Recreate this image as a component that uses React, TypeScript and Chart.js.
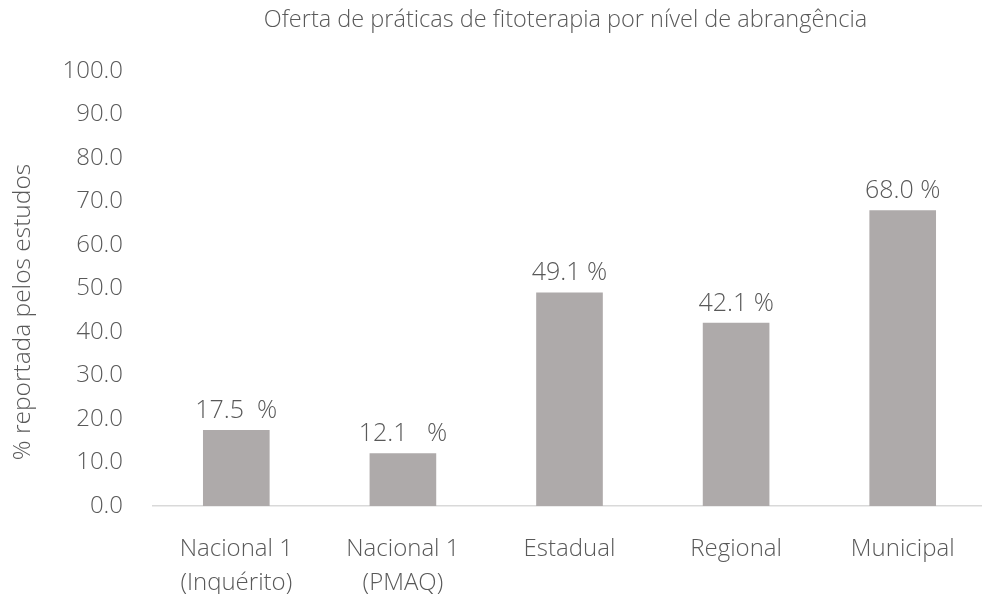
import React, { useEffect, useRef } from "react";
import { Chart, registerables } from "chart.js";

Chart.register(...registerables);

const categories: string[][] = [
  ["Nacional 1", "(Inquérito)"],
  ["Nacional 1", "(PMAQ)"],
  ["Estadual"],
  ["Regional"],
  ["Municipal"],
];
const values: number[] = [17.5, 12.1, 49.1, 42.1, 68.0];
const valueLabels: string[] = ["17.5  %", "12.1   %", "49.1 %", "42.1 %", "68.0 %"];
const chartTitle = "Oferta de práticas de fitoterapia por nível de abrangência";
const yAxisTitle = "% reportada pelos estudos";

const FONT = "'Open Sans', 'Noto Sans', sans-serif";
const TEXT = "#595959";

const overlayPlugin = {
  id: "overlay",
  afterDatasetsDraw(chart: any) {
    const ctx = chart.ctx;
    const area = chart.chartArea;
    ctx.save();
    ctx.fillStyle = TEXT;
    // title
    ctx.font = `300 23.5px ${FONT}`;
    ctx.textAlign = "center";
    ctx.textBaseline = "middle";
    ctx.fillText(chartTitle, (area.left + area.right) / 2 - 4, 20);
    // y axis title
    ctx.save();
    ctx.translate(23, 312);
    ctx.rotate(-Math.PI / 2);
    ctx.font = `300 24.5px ${FONT}`;
    ctx.fillText(yAxisTitle, 0, 0);
    ctx.restore();
    // value labels
    const meta = chart.getDatasetMeta(0);
    ctx.font = `300 25px ${FONT}`;
    ctx.textBaseline = "alphabetic";
    meta.data.forEach((bar: any, i: number) => {
      ctx.fillText(valueLabels[i], bar.x, bar.y - 12);
    });
    ctx.restore();
  },
};

export default function App() {
  const ref = useRef<HTMLCanvasElement | null>(null);
  useEffect(() => {
    if (!ref.current) return;
    const chart = new Chart(ref.current, {
      type: "bar",
      data: {
        labels: categories,
        datasets: [
          {
            data: values,
            backgroundColor: "#AEAAAA",
            borderWidth: 0,
            barPercentage: 0.8,
            categoryPercentage: 0.5,
          },
        ],
      },
      options: {
        animation: false,
        responsive: true,
        maintainAspectRatio: false,
        layout: { padding: { top: 71, right: 0, left: 0, bottom: 0 } },
        plugins: {
          legend: { display: false },
          title: { display: false },
          tooltip: { enabled: false },
        },
        scales: {
          x: {
            grid: { display: false, drawTicks: false },
            border: { display: true, color: "#D9D9D9", width: 1.5 },
            ticks: {
              color: TEXT,
              font: { family: FONT, size: 24, weight: "300", lineHeight: 1.38 },
              padding: 27,
              maxRotation: 0,
              autoSkip: false,
            },
            afterFit: (s: any) => {
              s.height = 88;
            },
          },
          y: {
            min: 0,
            max: 100,
            grid: { display: false, drawTicks: false },
            border: { display: false },
            ticks: {
              stepSize: 10,
              color: TEXT,
              padding: 30,
              font: { family: FONT, size: 24, weight: "300" },
              callback: (v: any) => Number(v).toFixed(1),
            },
            afterFit: (s: any) => {
              s.width = 153;
            },
          },
        },
      },
      plugins: [overlayPlugin],
    });
    return () => chart.destroy();
  }, []);
  return (
    <div style={{ position: "absolute", left: 0, top: 0, width: 982, height: 594, overflow: "hidden", background: "#fff" }}>
      <div style={{ position: "relative", width: 986, height: 594 }}>
        <canvas ref={ref} />
      </div>
    </div>
  );
}
